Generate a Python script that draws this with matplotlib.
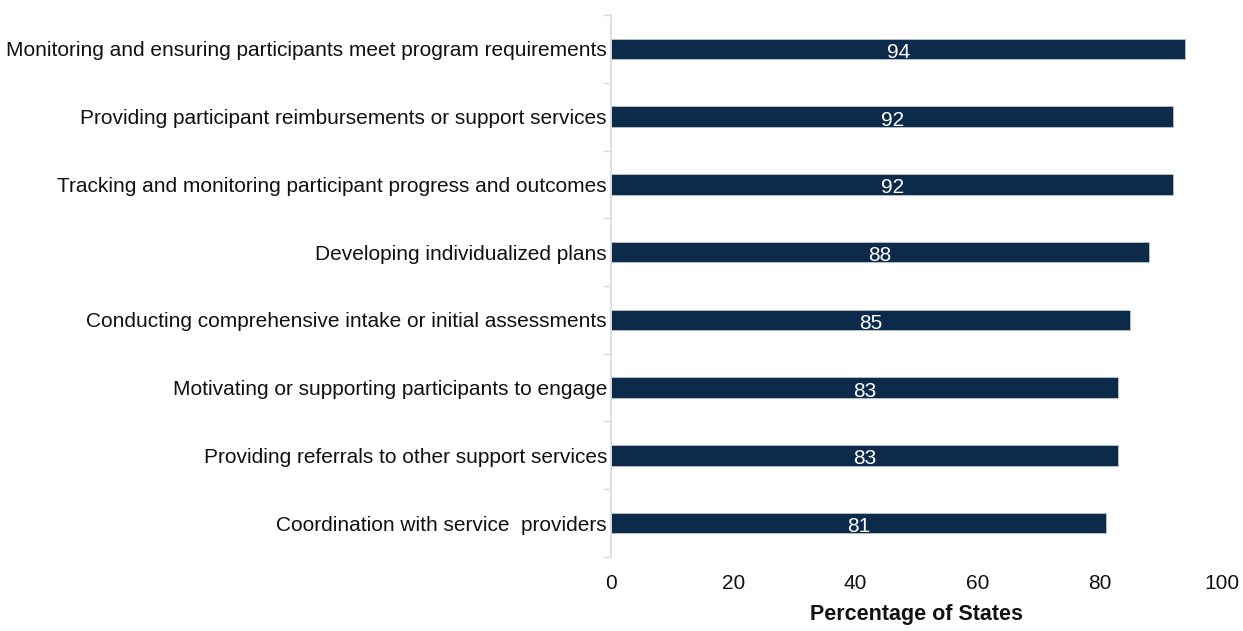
import numpy as np
import matplotlib.pyplot as plt

# Activities performed, listed bottom to top
activities = [
    "Coordination with service  providers",
    "Providing referrals to other support services",
    "Motivating or supporting participants to engage",
    "Conducting comprehensive intake or initial assessments",
    "Developing individualized plans",
    "Tracking and monitoring participant progress and outcomes",
    "Providing participant reimbursements or support services",
    "Monitoring and ensuring participants meet program requirements",
]
pct_states = [81, 83, 83, 85, 88, 92, 92, 94]
x_ticks = [0, 20, 40, 60, 80, 100]

plt.rcParams['font.family'] = ['Liberation Sans', 'DejaVu Sans']

fig = plt.figure(figsize=(12.43, 6.31), dpi=100)
ax = fig.add_axes([0.4916, 0.1173, 0.4915, 0.8589])

y = np.arange(len(activities))
ax.barh(y, pct_states, height=0.3, color="#0c2a4a",
        edgecolor="#b9c4d0", linewidth=0.6)

# value labels sit in the middle of each bar
for yi, v in zip(y, pct_states):
    ax.text(v / 2, yi - 0.05, str(v), color="white", fontsize=15,
            ha="center", va="center")

ax.set_xlim(0, 100)
ax.set_ylim(-0.5, len(activities) - 0.5)
ax.set_xticks(x_ticks)
ax.set_yticks(y)
ax.set_yticklabels(activities)
ax.tick_params(axis="y", length=0, pad=3, labelsize=15, colors="#111111")
ax.tick_params(axis="x", length=0, pad=12, labelsize=15, colors="#111111")
ax.set_yticks(np.arange(-0.5, len(activities)), minor=True)
ax.tick_params(axis="y", which="minor", length=6, width=1, color="#d9d9d9")

for side in ["top", "right", "bottom"]:
    ax.spines[side].set_visible(False)
ax.spines["left"].set_color("#d9d9d9")
ax.spines["left"].set_linewidth(1.2)

ax.set_xlabel("Percentage of States", fontsize=15.5, fontweight="bold",
              color="#111111", labelpad=8)

fig.savefig("out.png", dpi=100)
